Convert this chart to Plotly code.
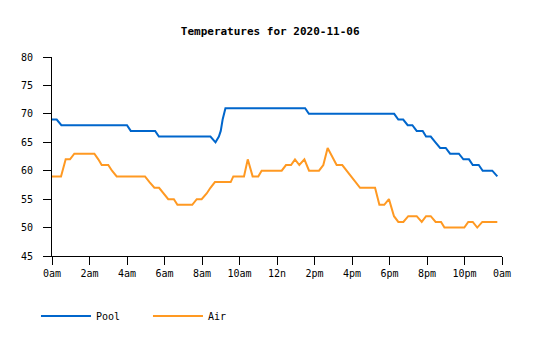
import plotly.graph_objects as go

# Time of day in hours since midnight
pool_hours = [0, 0.25, 0.5, 4.0, 4.2, 5.5, 5.7, 8.45, 8.72, 8.9, 9.0, 9.1, 9.25,
              13.5, 13.7, 18.25, 18.47, 18.73, 18.97, 19.22, 19.45, 19.77, 19.95,
              20.2, 20.45, 20.7, 21.0, 21.23, 21.7, 21.94, 22.24, 22.44, 22.76,
              22.97, 23.48, 23.75]
pool_temps = [69, 69, 68, 68, 67, 67, 66, 66, 65, 66, 67, 69, 71,
              71, 70, 70, 69, 69, 68, 68, 67, 67, 66,
              66, 65, 64, 64, 63, 63, 62, 62, 61, 61,
              60, 60, 59]

air_hours = [0, 0.48, 0.73, 0.96, 1.19, 2.26, 2.47, 2.65, 3.0, 3.2, 3.45, 4.96,
             5.2, 5.46, 5.71, 5.95, 6.2, 6.5, 6.69, 7.48, 7.72, 7.98, 8.25, 8.45,
             8.69, 9.53, 9.67, 10.24, 10.44, 10.7, 11.0, 11.18, 12.25, 12.48,
             12.75, 12.96, 13.19, 13.46, 13.71, 14.24, 14.47, 14.7, 15.18,
             15.48, 15.72, 15.95, 16.2, 16.43, 17.23, 17.46, 17.72, 17.97, 18.24,
             18.47, 18.74, 19.0, 19.45, 19.72, 19.95, 20.2, 20.46, 20.75, 20.93,
             21.99, 22.2, 22.44, 22.68, 22.95, 23.75]
air_temps = [59, 59, 62, 62, 63, 63, 62, 61, 61, 60, 59, 59,
             58, 57, 57, 56, 55, 55, 54, 54, 55, 55, 56, 57,
             58, 58, 59, 59, 62, 59, 59, 60, 60, 61,
             61, 62, 61, 62, 60, 60, 61, 64, 61,
             61, 60, 59, 58, 57, 57, 54, 54, 55, 52,
             51, 51, 52, 52, 51, 52, 52, 51, 51, 50,
             50, 51, 51, 50, 51, 51]

tick_hours = [0, 2, 4, 6, 8, 10, 12, 14, 16, 18, 20, 22, 24]
tick_labels = ["0am", "2am", "4am", "6am", "8am", "10am", "12n",
               "2pm", "4pm", "6pm", "8pm", "10pm", "0am"]

FONT = "DejaVu Sans Mono"

fig = go.Figure()
fig.add_trace(go.Scatter(x=pool_hours, y=pool_temps, mode="lines", name="Pool",
                         line=dict(color="#0066cc", width=2)))
fig.add_trace(go.Scatter(x=air_hours, y=air_temps, mode="lines", name="Air",
                         line=dict(color="#ff9922", width=2)))

fig.update_layout(
    width=535, height=340,
    margin=dict(l=52, r=33, t=57, b=84, autoexpand=False),
    paper_bgcolor="white", plot_bgcolor="white",
    font=dict(family=FONT, size=10, color="black"),
    title=dict(text="<b>Temperatures for 2020-11-06</b>", x=0.505, xanchor="center",
               y=1 - 31 / 340, yanchor="middle", yref="container",
               font=dict(family=FONT, size=11, color="black")),
    showlegend=True,
    legend=dict(orientation="h", x=-0.0356, xanchor="left",
                yref="container", y=1 - 316 / 340, yanchor="middle",
                font=dict(family=FONT, size=10), itemwidth=50, entrywidth=47),
)
fig.update_xaxes(range=[0, 24], tickvals=tick_hours, ticktext=tick_labels,
                 showgrid=False, zeroline=False, showline=True, linecolor="black",
                 linewidth=1, ticks="outside", ticklen=8, tickcolor="black",
                 fixedrange=True)
fig.update_yaxes(range=[45, 80], dtick=5, tick0=45, showgrid=False, zeroline=False,
                 showline=True, linecolor="black", linewidth=1, ticks="outside",
                 ticklen=8, tickcolor="black", ticklabelstandoff=8, fixedrange=True)

fig.write_html("out.html", config={"displayModeBar": False})
